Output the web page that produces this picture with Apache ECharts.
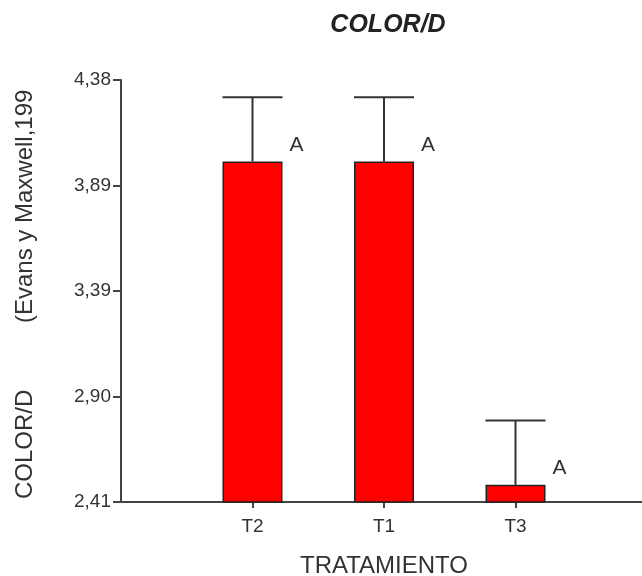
<!DOCTYPE html>
<html>
<head>
<meta charset="utf-8">
<script src="https://cdn.jsdelivr.net/npm/echarts@6/dist/echarts.min.js"></script>
<style>
  html, body { margin: 0; padding: 0; background: #ffffff; }
  #chart { width: 642px; height: 576px; }
</style>
</head>
<body>
<div id="chart"></div>
<script>
// ---- data ----
var categories = ['T2', 'T1', 'T3'];
var means = [4.00, 4.00, 2.49];
var stdErr = [0.30, 0.30, 0.30];
var letters = ['A', 'A', 'A'];
var yTickLabels = ['2,41', '2,90', '3,39', '3,89', '4,38'];
var yMin = 2.41;
var yMax = 4.38;

var FONT = '"Liberation Sans", Arial, sans-serif';
var INK = '#333333';

var barData = categories.map(function (c, i) { return [i + 1, means[i]]; });
var errData = categories.map(function (c, i) { return [i + 1, means[i], means[i] + stdErr[i], i]; });

var chart = echarts.init(document.getElementById('chart'), null, { renderer: 'canvas' });

chart.setOption({
  animation: false,
  backgroundColor: '#ffffff',
  title: {
    text: 'COLOR/D',
    left: 388,
    top: 13,
    padding: 0,
    textAlign: 'center',
    textStyle: { fontFamily: FONT, fontSize: 25, fontWeight: 'bold', fontStyle: 'italic', color: '#222' }
  },
  grid: { left: 121, right: -5, top: 80, bottom: 74, containLabel: false, outerBoundsMode: 'none' },
  xAxis: {
    type: 'value',
    min: 0,
    max: 4,
    interval: 1,
    name: 'TRATAMIENTO',
    nameLocation: 'middle',
    nameGap: 52,
    nameTextStyle: { fontFamily: FONT, fontSize: 24, color: INK },
    splitLine: { show: false },
    axisLine: { show: true, onZero: false, lineStyle: { color: '#444', width: 2 } },
    axisTick: { show: true, customValues: [1, 2, 3], length: 6, lineStyle: { color: '#444', width: 2 } },
    axisLabel: {
      customValues: [1, 2, 3],
      margin: 15,
      fontFamily: FONT, fontSize: 19, color: INK,
      formatter: function (v) { return categories[Math.round(v) - 1] || ''; }
    }
  },
  yAxis: {
    type: 'value',
    min: yMin,
    max: yMax,
    interval: (yMax - yMin) / 4,
    name: 'COLOR/D          (Evans y Maxwell,199 ',
    nameLocation: 'middle',
    nameGap: 84,
    nameTextStyle: { fontFamily: FONT, fontSize: 24, color: INK },
    splitLine: { show: false },
    axisLine: { show: true, lineStyle: { color: '#444', width: 2 } },
    axisTick: { show: true, length: 8, lineStyle: { color: '#444', width: 2 } },
    axisLabel: {
      margin: 10,
      padding: [3, 0, 0, 0],
      fontFamily: FONT, fontSize: 19, color: INK,
      formatter: function (v, idx) { return yTickLabels[idx]; }
    }
  },
  series: [
    {
      type: 'bar',
      data: barData,
      barWidth: 60,
      itemStyle: { color: '#ff0000', borderColor: '#222', borderWidth: 1.5 },
      z: 2
    },
    {
      type: 'custom',
      data: errData,
      z: 3,
      renderItem: function (params, api) {
        var x = api.value(0);
        var base = api.coord([x, api.value(1)]);
        var top = api.coord([x, api.value(2)]);
        var half = 30;
        var letter = letters[api.value(3)];
        return {
          type: 'group',
          children: [
            { type: 'line', shape: { x1: base[0], y1: base[1], x2: top[0], y2: top[1] },
              style: { stroke: '#333', lineWidth: 2 } },
            { type: 'line', shape: { x1: top[0] - half, y1: top[1], x2: top[0] + half, y2: top[1] },
              style: { stroke: '#333', lineWidth: 2 } },
            { type: 'text', x: base[0] + half + 7, y: base[1] - 6,
              style: { text: letter, fontFamily: FONT, fontSize: 21, fill: INK,
                       textAlign: 'left', textVerticalAlign: 'bottom' } }
          ]
        };
      }
    }
  ]
});
</script>
</body>
</html>
